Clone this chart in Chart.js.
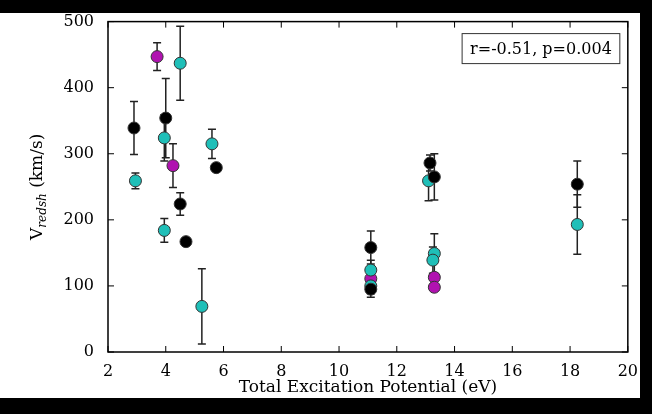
<!DOCTYPE html>
<html>
<head>
<script src="https://cdn.jsdelivr.net/npm/chart.js@4"></script>
<style>
  body { margin: 0; background: #000; width: 652px; height: 414px; overflow: hidden; }
  #wrap { position: absolute; left: 0; top: 6px; width: 640px; height: 392px; background: #fff; }
  #topband { position: absolute; left: 0; top: 0; width: 652px; height: 13px; background: #000; }
</style>
</head>
<body>
<div id="wrap"><canvas id="c" width="640" height="392"></canvas></div>
<div id="topband"></div>
<script>
// each point: x, y, error
const blackX = [2.9, 4.0, 4.5, 4.7, 5.75, 11.1, 11.1, 13.15, 13.3, 18.25];
const blackY = [339, 354, 224, 167, 279, 158, 95, 286, 265, 254];
const blackErr = [40, 60, 17, 0, 0, 25, 12, 12, 35, 35];

const cyanX = [2.95, 3.95, 3.95, 4.5, 5.6, 5.25, 11.1, 11.1, 13.1, 13.3, 13.25, 18.25];
const cyanY = [259, 324, 184, 437, 315, 69, 124, 100, 259, 149, 139, 193];
const cyanErr = [12, 35, 18, 56, 22, 57, 15, 12, 30, 30, 20, 45];

const magentaX = [3.7, 4.25, 11.1, 13.3, 13.3];
const magentaY = [447, 282, 111, 113, 98];
const magentaErr = [21, 33, 12, 0, 0];

const xTicks = [2, 4, 6, 8, 10, 12, 14, 16, 18, 20];
const yTicks = [0, 100, 200, 300, 400, 500];

function pts(xs, ys, es) {
    return xs.map((x, i) => ({ x: x, y: ys[i], err: es[i] }));
}

const errorBars = {
    id: 'errorBars',
    beforeDatasetsDraw(chart) {
        const ctx = chart.ctx, xs = chart.scales.x, ys = chart.scales.y;
        ctx.save();
        ctx.strokeStyle = '#222';
        ctx.lineWidth = 1.5;
        chart.data.datasets.forEach(ds => {
            ds.data.forEach(p => {
                if (!p.err) return;
                const px = xs.getPixelForValue(p.x);
                const top = ys.getPixelForValue(p.y + p.err);
                const bot = ys.getPixelForValue(p.y - p.err);
                ctx.beginPath();
                ctx.moveTo(px, top); ctx.lineTo(px, bot);
                ctx.moveTo(px - 4, top); ctx.lineTo(px + 4, top);
                ctx.moveTo(px - 4, bot); ctx.lineTo(px + 4, bot);
                ctx.stroke();
            });
        });
        ctx.restore();
    },
    afterDraw(chart) {
        const ctx = chart.ctx, a = chart.chartArea, xs = chart.scales.x, ys = chart.scales.y;
        ctx.save();
        ctx.strokeStyle = '#000';
        ctx.lineWidth = 1.5;
        ctx.strokeRect(a.left, a.top, a.right - a.left, a.bottom - a.top);
        ctx.lineWidth = 1;
        ctx.beginPath();
        xTicks.forEach(t => {
            const px = xs.getPixelForValue(t);
            ctx.moveTo(px, a.bottom); ctx.lineTo(px, a.bottom - 6);
            ctx.moveTo(px, a.top); ctx.lineTo(px, a.top + 6);
        });
        yTicks.forEach(t => {
            const py = ys.getPixelForValue(t);
            ctx.moveTo(a.left, py); ctx.lineTo(a.left + 6, py);
            ctx.moveTo(a.right, py); ctx.lineTo(a.right - 6, py);
        });
        ctx.stroke();
        // stats box
        ctx.font = '16px "DejaVu Serif"';
        const txt = 'r=-0.51, p=0.004';
        const w = ctx.measureText(txt).width;
        const bx = a.right - w - 24, by = a.top + 12;
        ctx.fillStyle = '#fff';
        ctx.fillRect(bx, by, w + 16, 30);
        ctx.strokeStyle = '#333';
        ctx.strokeRect(bx, by, w + 16, 30);
        ctx.fillStyle = '#000';
        ctx.textBaseline = 'middle';
        ctx.fillText(txt, bx + 8, by + 16);
        // y title with subscript
        ctx.translate(36, (a.top + a.bottom) / 2);
        ctx.rotate(-Math.PI / 2);
        const p1 = 'V', p3 = ' (km/s)';
        ctx.font = 'italic 12px "DejaVu Serif"';
        const wSub = ctx.measureText('redsh').width;
        ctx.font = '17px "DejaVu Serif"';
        const w1 = ctx.measureText(p1).width, w3 = ctx.measureText(p3).width;
        let x0 = -(w1 + wSub + w3) / 2;
        ctx.textBaseline = 'alphabetic';
        ctx.fillText(p1, x0, 6);
        ctx.font = 'italic 12px "DejaVu Serif"';
        ctx.fillText('redsh', x0 + w1, 10);
        ctx.font = '17px "DejaVu Serif"';
        ctx.fillText(p3, x0 + w1 + wSub, 6);
        ctx.restore();
    }
};

const common = { pointRadius: 6, pointHoverRadius: 6, borderColor: '#333', borderWidth: 1 };

new Chart(document.getElementById('c'), {
    type: 'scatter',
    data: {
        datasets: [
            Object.assign({ label: 'black', data: pts(blackX, blackY, blackErr), backgroundColor: '#000' }, common),
            Object.assign({ label: 'cyan', data: pts(cyanX, cyanY, cyanErr), backgroundColor: '#1fbfb8' }, common),
            Object.assign({ label: 'magenta', data: pts(magentaX, magentaY, magentaErr), backgroundColor: '#b012b0' }, common)
        ]
    },
    options: {
        responsive: false,
        animation: false,
        devicePixelRatio: 1,
        layout: { padding: { left: 0, right: 8, top: 6, bottom: 0 } },
        plugins: { legend: { display: false }, tooltip: { enabled: false } },
        scales: {
            x: {
                type: 'linear', min: 2, max: 20,
                afterBuildTicks: s => { s.ticks = xTicks.map(v => ({ value: v })); },
                afterFit: s => { s.height = 46; },
                grid: { display: false },
                border: { display: false },
                ticks: { autoSkip: false, color: '#000', font: { family: 'DejaVu Serif', size: 16 }, padding: 2, maxRotation: 0 },
                title: { display: true, text: 'Total Excitation Potential (eV)', color: '#000', font: { family: 'DejaVu Serif', size: 17 }, padding: { top: 6, bottom: 0 } }
            },
            y: {
                min: 0, max: 500,
                afterBuildTicks: s => { s.ticks = yTicks.map(v => ({ value: v })); },
                afterFit: s => { s.width = 108; },
                grid: { display: false },
                border: { display: false },
                ticks: { autoSkip: false, color: '#000', font: { family: 'DejaVu Serif', size: 16 }, padding: 6 }
            }
        }
    },
    plugins: [errorBars]
});
</script>
</body>
</html>
